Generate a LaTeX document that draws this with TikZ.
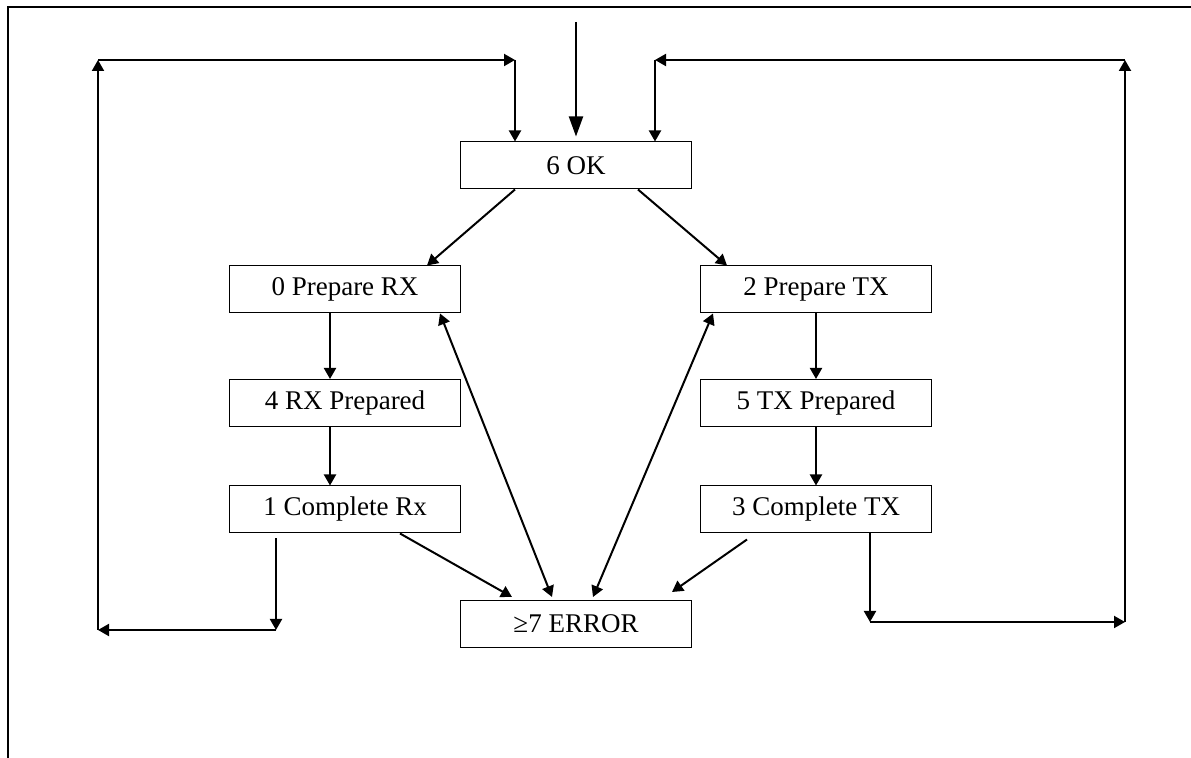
\documentclass[tikz,border=0pt]{standalone}
\usepackage{fontspec}
\setmainfont{Liberation Serif}
\usetikzlibrary{positioning,calc,arrows.meta}

\begin{document}
\begin{tikzpicture}[x=0.5pt,y=-0.5pt,
  stbox/.style={draw, line width=0.5pt, minimum width=115.5pt, minimum height=23.5pt, inner sep=0pt, font=\fontsize{13.5}{16}\selectfont},
  flow/.style={-{Triangle[length=5.5pt,width=6pt]}, line width=1pt},
  dflow/.style={{Triangle[length=5.5pt,width=6pt]}-{Triangle[length=5.5pt,width=6pt]}, line width=1pt}
]
  \useasboundingbox (0,0) rectangle (1191,758);
  % page frame
  \draw[line width=1.2pt] (8,758) -- (8,7) -- (1191,7);

  \node[stbox] (ok)  at (576,165.5) {6 OK};
  \node[stbox] (prx) at (345,289.5) {0 Prepare RX};
  \node[stbox] (ptx) at (816,289.5) {2 Prepare TX};
  \node[stbox] (rxp) at (345,403) {4 RX Prepared};
  \node[stbox] (txp) at (816,403) {5 TX Prepared};
  \node[stbox] (crx) at (345,509.5) {1 Complete Rx};
  \node[stbox] (ctx) at (816,509.5) {3 Complete TX};
  \node[stbox] (err) at (576,624) {≥7 ERROR};

  % loop corners
  \coordinate (start) at (576,22);
  \coordinate (lb1) at (276,630);
  \coordinate (lb2) at (98,630);
  \coordinate (lb3) at (98,60);
  \coordinate (lb4) at (515,60);
  \coordinate (rb1) at (870,622);
  \coordinate (rb2) at (1125,622);
  \coordinate (rb3) at (1125,60);
  \coordinate (rb4) at (655,60);

  \draw[-{Triangle[length=10pt,width=7pt]}, line width=1pt, shorten >=2.5pt] (start) -- (ok.north);
  \draw[flow] ($(ok.south)+(-61,0)$) -- ($(prx.north)+(82,0)$);
  \draw[flow] ($(ok.south)+(62,0)$) -- ($(ptx.north)+(-89,0)$);

  \draw[flow] ($(prx.south)+(-15,0)$) -- ($(rxp.north)+(-15,0)$);
  \draw[flow] ($(rxp.south)+(-15,0)$) -- ($(crx.north)+(-15,0)$);
  \draw[flow] (ptx) -- (txp);
  \draw[flow] (txp) -- (ctx);

  \draw[flow] ($(crx.south)+(55,0)$) -- ($(err.north)+(-64,-3)$);
  \draw[flow] ($(ctx.south)+(-69,6)$) -- ($(err.north)+(96,-8)$);
  \draw[dflow] ($(prx.south)+(95,0)$) -- ($(err.north)+(-24,-3)$);
  \draw[dflow] ($(ptx.south)+(-103,0)$) -- ($(err.north)+(17,-3)$);

  % RX loop back to OK
  \draw[flow, shorten <=2.5pt] ($(crx.south)+(-69,0)$) -- (lb1);
  \draw[flow] (lb1) -- (lb2);
  \draw[flow] (lb2) -- (lb3);
  \draw[flow] (lb3) -- (lb4);
  \draw[flow] (lb4) -- ($(ok.north)+(-61,0)$);

  % TX loop back to OK
  \draw[flow] ($(ctx.south)+(54,0)$) -- (rb1);
  \draw[flow] (rb1) -- (rb2);
  \draw[flow] (rb2) -- (rb3);
  \draw[flow] (rb3) -- (rb4);
  \draw[flow] (rb4) -- ($(ok.north)+(79,0)$);
\end{tikzpicture}
\end{document}
